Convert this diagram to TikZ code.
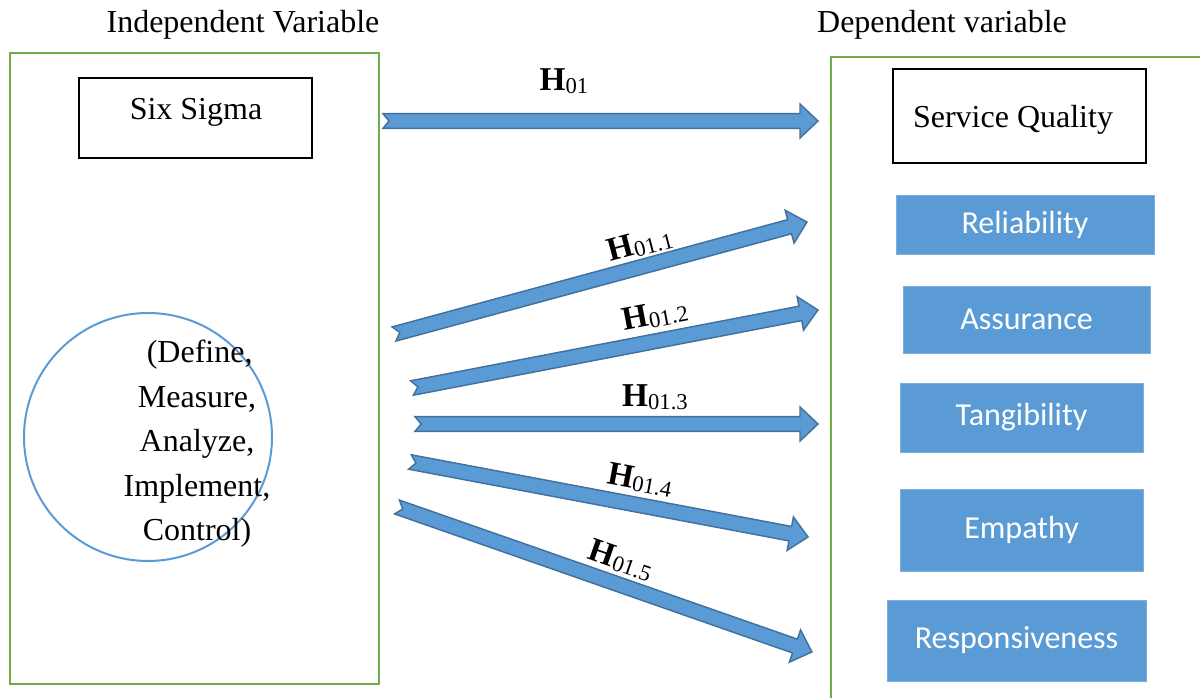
\documentclass[tikz,border=0pt]{standalone}
\usepackage{fontspec}
\setmainfont{Liberation Serif}
\newfontfamily\calibrifont{Carlito}
\usetikzlibrary{calc}
\definecolor{grn}{HTML}{70AD47}
\definecolor{blu}{HTML}{5B9BD5}
\definecolor{bluedge}{HTML}{41719C}
\tikzset{
  harrow/.style={fill=blu, draw=bluedge, line width=1.1pt, line join=miter},
  greenbox/.style={draw=grn, line width=1.6pt},
  blackbox/.style={draw=black, line width=1.5pt, inner sep=0pt},
  bluebox/.style={fill=blu, draw=blu!80!white, line width=0.4pt, text=white, inner sep=0pt, font=\calibrifont\fontsize{24}{28}\selectfont},
  toplabel/.style={font=\fontsize{24}{28}\selectfont},
  hyplabel/.style={inner sep=0pt}
}
\newcommand\myhlab[1]{{\fontsize{25}{30}\selectfont\textbf{H}}\raisebox{-2pt}{\fontsize{17}{20}\selectfont #1}}
\newcommand\hyparrow[2]{%
  \path let \p1=($(#2)-(#1)$) in \pgfextra{\pgfmathsetmacro\myArrA{atan2(\y1,\x1)}\pgfmathsetmacro\myArrL{veclen(\x1,\y1)}\xdef\ArrAng{\myArrA}\xdef\ArrLen{\myArrL}};
  \pgfmathsetmacro\ArrBase{\ArrLen-13.5}
  \begin{scope}[shift={(#1)},rotate=\ArrAng]
    \filldraw[harrow] (0pt,5.5pt) -- (4.5pt,0pt) -- (0pt,-5.5pt) -- (\ArrBase pt,-5.5pt) -- (\ArrBase pt,-12.75pt) -- (\ArrLen pt,0pt) -- (\ArrBase pt,12.75pt) -- (\ArrBase pt,5.5pt) -- cycle;
  \end{scope}}
\begin{document}
\begin{tikzpicture}[x=0.75pt,y=-0.75pt]
\useasboundingbox (0,0) rectangle (1200,698);
\begin{scope}
\clip (0,0) rectangle (1200,698);
% headings
\node[toplabel] (indep) at (243,25) {Independent Variable};
\node[toplabel] (dep) at (942,25) {Dependent variable};
% frames
\draw[greenbox] (10,53) rectangle (379,684);
\draw[greenbox] (831,57) rectangle (1215,715);
% left side
\node[blackbox, minimum width=174.75pt, minimum height=60pt] (ss) at (195.5,118) {};
\node[toplabel] (sstext) at (196,112) {Six Sigma};
\node[draw=blu, line width=1.5pt, circle, minimum size=186pt] (circ) at (148,437) {};
\node[toplabel, align=center, font=\fontsize{24}{33.4}\selectfont] (dmaic) at (197,444) {\,(Define,\\Measure,\\Analyze,\\Implement,\\Control)};
% right side
\node[blackbox, minimum width=189.75pt, minimum height=70.5pt] (sq) at (1019.5,116) {};
\node[toplabel] (sqtext) at (1013,120) {Service Quality};
\node[bluebox, minimum width=193.5pt, minimum height=44.25pt] (rel) at (1025,224.5) {\raisebox{-2pt}{Reliability}};
\node[bluebox, minimum width=185.25pt, minimum height=50.25pt] (ass) at (1026.5,319.5) {\raisebox{-2pt}{Assurance}};
\node[bluebox, minimum width=182.25pt, minimum height=51.75pt] (tan) at (1021.5,417.5) {\raisebox{-2pt}{Tangibility}};
\node[bluebox, minimum width=182.25pt, minimum height=61.5pt] (emp) at (1021.5,530) {\raisebox{-2pt}{Empathy}};
\node[bluebox, minimum width=194.25pt, minimum height=60.75pt] (res) at (1016.5,640.5) {\raisebox{-2pt}{Responsiveness}};
% arrow ends
\coordinate (t0) at (383,121);  \coordinate (h0) at (818,121);
\coordinate (t1) at (394,334);  \coordinate (h1) at (807,222);
\coordinate (t2) at (412,388);  \coordinate (h2) at (818,310);
\coordinate (t3) at (415,424);  \coordinate (h3) at (818,424);
\coordinate (t4) at (410,462);  \coordinate (h4) at (808,537);
\coordinate (t5) at (397,507);  \coordinate (h5) at (812,652);
\hyparrow{t0}{h0}
\hyparrow{t1}{h1}
\hyparrow{t2}{h2}
\hyparrow{t3}{h3}
\hyparrow{t4}{h4}
\hyparrow{t5}{h5}
% hypothesis labels
\node[hyplabel] (l0) at (564,81) {\myhlab{01}};
\node[hyplabel, rotate=14.9] (l1) at (640,244) {\myhlab{01.1}};
\node[hyplabel, rotate=10.8] (l2) at (655,315) {\myhlab{01.2}};
\node[hyplabel] (l3) at (655,397) {\myhlab{01.3}};
\node[hyplabel, rotate=-10.7] (l4) at (640,480) {\myhlab{01.4}};
\node[hyplabel, rotate=-19.3] (l5) at (621,560) {\myhlab{01.5}};
\end{scope}
\end{tikzpicture}
\end{document}
